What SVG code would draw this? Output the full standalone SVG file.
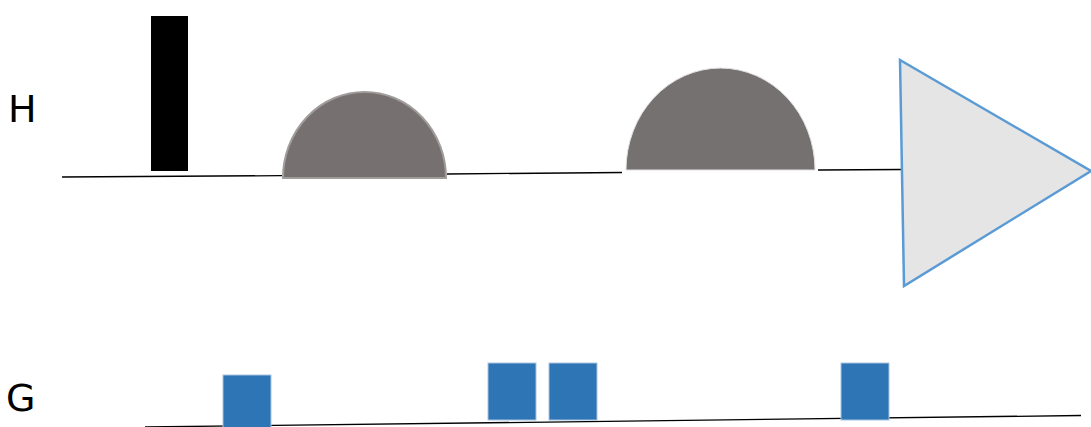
<svg xmlns="http://www.w3.org/2000/svg" width="1091" height="427" viewBox="0 0 1091 427">
<style>
.lbl{font-family:"DejaVu Sans",sans-serif;font-size:38px;fill:#000}
.ln{stroke:#000;stroke-width:1.3;fill:none}
.g{fill:#2e75b6;stroke:#a9c4e0;stroke-width:1}
</style>
<rect width="1091" height="427" fill="#fff"/>
<g id="connectors">
<line class="ln" x1="62" y1="177" x2="282" y2="175.6"/>
<line class="ln" x1="447" y1="174" x2="622" y2="172.5"/>
<line class="ln" x1="818" y1="170" x2="902" y2="169.5"/>
<line class="ln" x1="145" y1="427" x2="1081" y2="415.5"/>
</g>
<g id="label-H"><text class="lbl" x="8" y="122">H</text></g>
<g id="label-G"><text class="lbl" x="6" y="411">G</text></g>
<g id="pulse-hard"><rect x="151" y="16" width="37" height="155" fill="#000"/></g>
<g id="pulse-soft1"><path d="M283,178 A81.5,86 0 0 1 446,178 Z" fill="#767170" stroke="#a09c9b" stroke-width="2"/></g>
<g id="pulse-soft2"><path d="M626,170 A94.5,102 0 0 1 815,170 Z" fill="#757171" stroke="#e0e0e0" stroke-width="1"/></g>
<g id="acquisition"><polygon points="900,60 1091,171 904,286" fill="#e5e5e5" stroke="#5b9bd5" stroke-width="2.5" stroke-linejoin="miter"/></g>
<g id="grad1"><rect class="g" x="223" y="375" width="48" height="53"/></g>
<g id="grad2"><rect class="g" x="488" y="363" width="48" height="57"/></g>
<g id="grad3"><rect class="g" x="549" y="363" width="48" height="57"/></g>
<g id="grad4"><rect class="g" x="841" y="363" width="48" height="57"/></g>
</svg>
